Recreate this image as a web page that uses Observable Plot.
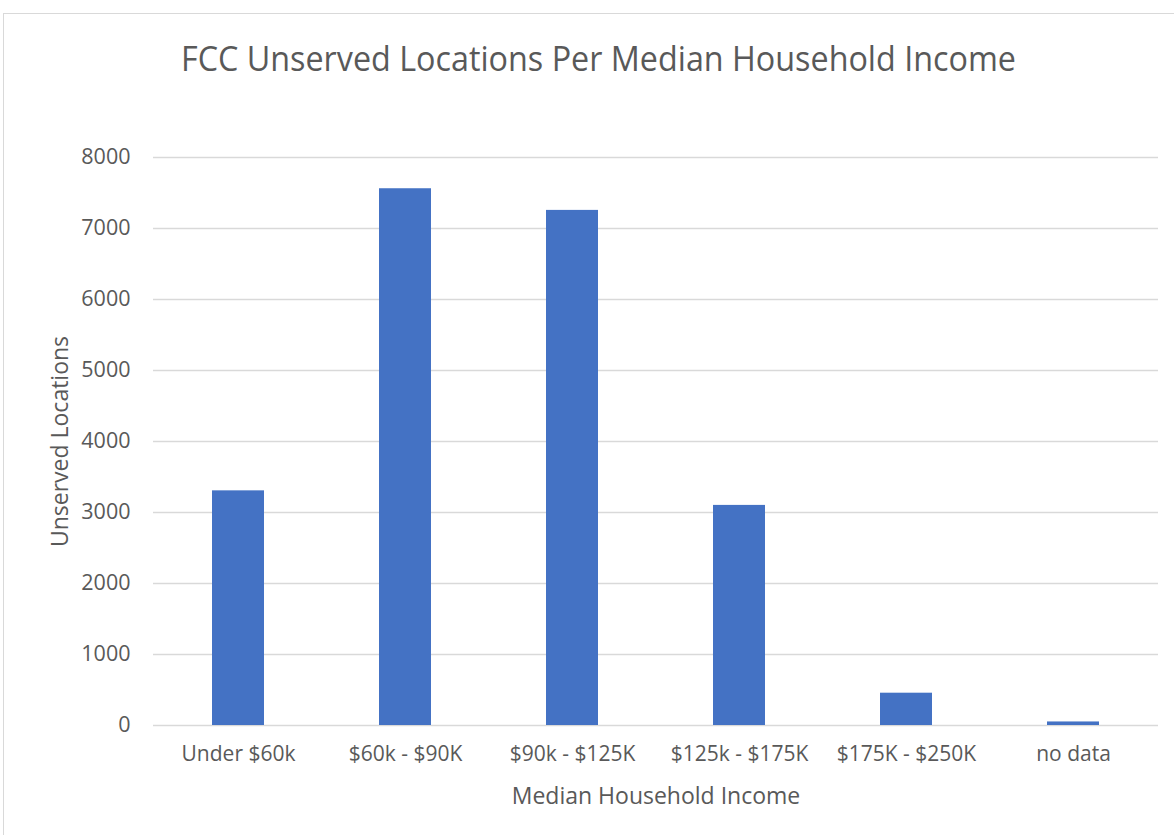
<!DOCTYPE html>
<html><head><meta charset="utf-8">
<script src="https://cdn.jsdelivr.net/npm/d3@7"></script>
<script src="https://cdn.jsdelivr.net/npm/@observablehq/plot@0.6"></script>
<style>
body{margin:0;background:#fff;font-family:"Open Sans",sans-serif;}
#frame{position:absolute;left:3px;top:13px;width:1300px;height:1000px;border:1px solid #d9d9d9;box-sizing:border-box;}
#title{position:absolute;left:0;top:33px;width:1196px;text-align:center;font-size:34px;color:#595959;line-height:50px;}
#title span{display:inline-block;transform:scaleX(0.95);transform-origin:center;white-space:nowrap;}
#chart{position:absolute;left:0;top:90px;}
</style></head>
<body>
<div id="frame"></div>
<div id="title"><span>FCC Unserved Locations Per Median Household Income</span></div>
<div id="chart"></div>
<script>
const categories = ["Under $60k", "$60k - $90K", "$90k - $125K", "$125k - $175K", "$175K - $250K", "no data"];
const values = [3305, 7560, 7255, 3100, 455, 50];
const yTicks = [0, 1000, 2000, 3000, 4000, 5000, 6000, 7000, 8000];
const data = categories.map((c, i) => ({category: c, value: values[i]}));

const chart = Plot.plot({
  width: 1174,
  height: 745,
  marginLeft: 153,
  marginRight: 16,
  marginTop: 67,
  marginBottom: 110,
  style: {fontFamily: "Open Sans, sans-serif", fontSize: "20px", color: "#595959", background: "transparent"},
  x: {domain: categories, paddingInner: 0.69, paddingOuter: 0.345, label: null},
  y: {domain: [0, 8000], label: null},
  marks: [
    Plot.ruleY(yTicks, {stroke: "#d9d9d9", strokeWidth: 1.5}),
    Plot.barY(data, {x: "category", y: "value", fill: "#4472c4"}),
    Plot.axisY({ticks: yTicks, tickSize: 0, tickPadding: 23, tickFormat: d => String(d), fontSize: 21.5, label: null}),
    Plot.axisX({tickSize: 0, tickPadding: 21, fontSize: 21, label: null}),
    Plot.text(["Unserved Locations"], {frameAnchor: "left", textAnchor: "middle", dx: -93, rotate: -90, fontSize: 23, fill: "#595959"}),
    Plot.text(["Median Household Income"], {frameAnchor: "bottom", dy: 78, fontSize: 23, fill: "#595959"})
  ]
});
document.getElementById("chart").appendChild(chart);
</script>
</body></html>
